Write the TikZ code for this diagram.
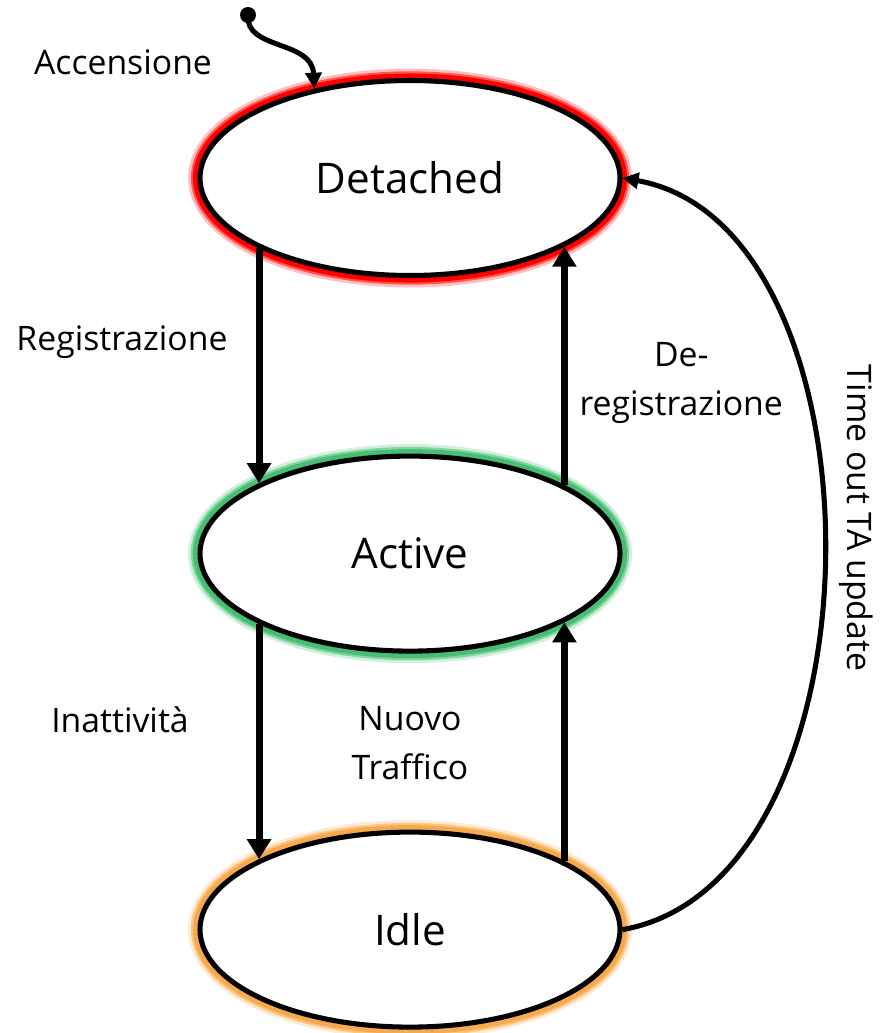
\documentclass[tikz,border=0pt]{standalone}
\usepackage{fontspec}
\setmainfont{Open Sans}
\usetikzlibrary{shapes.geometric,arrows.meta}

\definecolor{glowred}{RGB}{255,0,0}
\definecolor{glowgreen}{RGB}{70,190,115}
\definecolor{gloworange}{RGB}{247,170,75}

\tikzset{
  state/.style={ellipse, draw=black, fill=white, line width=3.6pt,
    minimum width=10.5cm, minimum height=4.875cm, inner sep=0pt,
    font=\fontsize{30}{36}\selectfont,
    preaction={draw=#1, line width=17pt, opacity=.25},
    preaction={draw=#1, line width=13pt, opacity=.55},
    preaction={draw=#1, line width=10pt}},
  label/.style={font=\fontsize{24}{35}\selectfont, align=center},
  bigarrow/.style={line width=5pt, -{Triangle[length=0.5cm,width=0.58cm]}},
  thinarrow/.style={line width=3.6pt, -{Triangle[length=0.4cm,width=0.4cm]}}
}

\begin{document}
\begin{tikzpicture}
	\useasboundingbox (0,0) rectangle (22.15,-25.825);
	% the three states
	\node[state=glowred]    (Det)  at (10.25,-4.45)  {Detached};
	\node[state=gloworange] (Idle) at (10.25,-23.24) {Idle};
	\node[state=glowgreen]  (Act)  at (10.25,-13.84) {Active};
	% power on
	\coordinate (S) at (6.2,-0.375);
	\fill (S) circle (0.2);
	\draw[thinarrow] (S) .. controls (6.125,-1.25) and (7.8,-1.0) .. (Det.137);
	\node[label] (acc) at (3.075,-1.55) {Accensione};
	% transitions
	\draw[bigarrow] (Det.-155) -- (Act.155);
	\draw[bigarrow] (Act.24.5) -- (Det.-24.5);
	\draw[bigarrow] (Act.-155) -- (Idle.155);
	\draw[bigarrow] (Idle.24.5) -- (Act.-24.5);
	\draw[thinarrow] (Idle.east) to[out=10,in=-10,looseness=0.93] (Det.east);
	\node[label] (reg)   at (3.05,-8.55)   {Registrazione};
	\node[label] (dereg) at (17.03,-9.58)  {De-\\registrazione};
	\node[label] (inat)  at (3.0,-18.0)    {Inattività};
	\node[label] (nuovo) at (10.25,-18.58) {Nuovo\\Traffico};
	\node[label, rotate=-90] (tout) at (21.4,-12.95) {Time out TA update};
\end{tikzpicture}
\end{document}
